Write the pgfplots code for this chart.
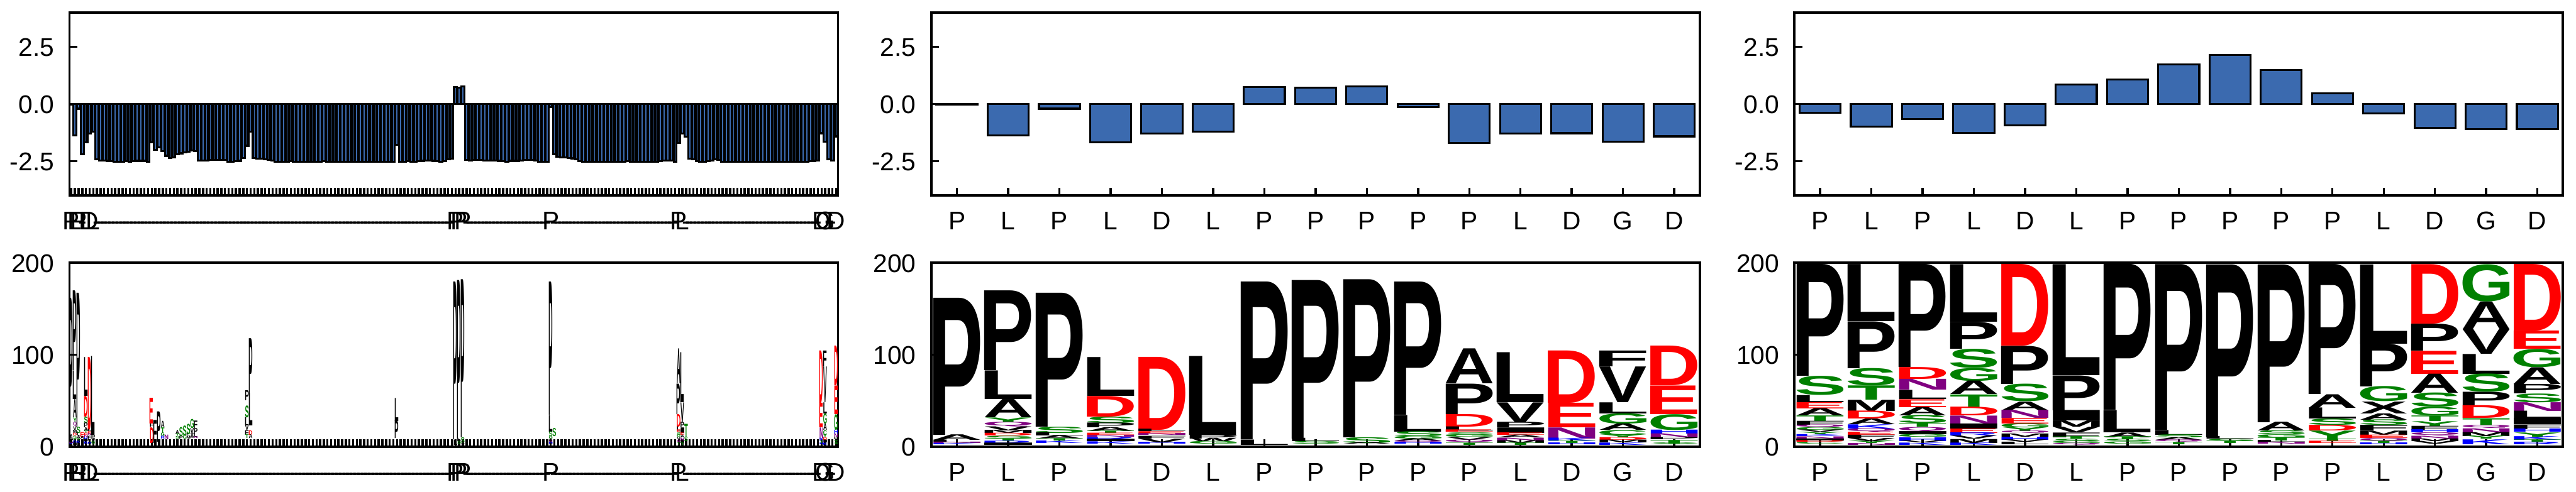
\documentclass[border=0pt]{standalone}
\usepackage{fontspec}
\setmainfont{Liberation Sans}
\usepackage{graphicx}
\usepackage{pgfplots}
\usepackage{pgfplotstable}
\pgfplotsset{compat=1.18}

\definecolor{barblue}{RGB}{59,106,175}
\definecolor{lgreen}{RGB}{0,128,0}
\definecolor{lpurple}{RGB}{128,0,128}
\definecolor{lblue}{RGB}{0,0,255}
\definecolor{lred}{RGB}{255,0,0}
\colorlet{cA}{black}\colorlet{cV}{black}\colorlet{cL}{black}\colorlet{cI}{black}
\colorlet{cP}{black}\colorlet{cW}{black}\colorlet{cF}{black}\colorlet{cM}{black}\colorlet{cX}{black}
\colorlet{cG}{lgreen}\colorlet{cS}{lgreen}\colorlet{cT}{lgreen}\colorlet{cY}{lgreen}\colorlet{cC}{lgreen}
\colorlet{cN}{lpurple}\colorlet{cQ}{lpurple}
\colorlet{cK}{lblue}\colorlet{cR}{lblue}\colorlet{cH}{lblue}
\colorlet{cD}{lred}\colorlet{cE}{lred}

\newdimen\lu \lu=0.212pt
\newcommand\inkletter[1]{\count255=\XeTeXcharglyph`#1\relax\kern-\XeTeXglyphbounds1 \count255 #1\kern-\XeTeXglyphbounds3 \count255 }
\newcommand\logoL[1]{%
  \pgfkeys{/pgf/fpu=true,/pgf/fpu/output format=fixed}\pgfmathparse{\hv}\let\hh\pgfmathresult\pgfkeys{/pgf/fpu=false}%
  \edef\lv{\pgfplotspointmeta}%
  \resizebox*{#1}{\hh\lu}{\bfseries\textcolor{c\lv}{\expandafter\inkletter\expandafter{\lv}}}}

\pgfplotsset{
  common/.style={scale only axis, width=177pt,
    axis line style={line width=0.55pt},
    every tick/.style={black, line width=0.5pt},
    major tick length=1.8pt, tick align=inside,
    xtick pos=left, ytick pos=left, minor tick num=0,
    tick label style={font=\fontsize{5.9}{7}\selectfont, text height=4.3pt, text depth=0pt},
    /pgf/number format/assume math mode=true},
  toprow/.style={common, height=42.2pt, ymin=-4, ymax=4, ytick={-2.5,0,2.5},
    yticklabel style={/pgf/number format/.cd, fixed, fixed zerofill, precision=1}},
  botrow/.style={common, height=42.4pt, ymin=0, ymax=200, ytick={0,100,200}},
  bars/.style={ybar, fill=barblue, draw=black, line width=0.45pt},
  logo/.style={only marks, mark=none, point meta=explicit symbolic,
    visualization depends on={\thisrow{h}\as\hv},
    nodes near coords={\logoL{#1}},
    every node near coord/.style={anchor=south, inner sep=0pt, outer sep=0pt}},
}

\pgfplotstableread[row sep=\\]{
k v lab\\
0 -0.03 P\\ 1 -1.36 L\\ 2 -0.20 P\\ 3 -2.20 -\\ 4 -1.68 L\\ 5 -1.29 D\\ 6 -1.20 L\\ 7 -2.42 -\\ 8 -2.46 -\\ 9 -2.47 -\\
10 -2.48 -\\ 11 -2.50 -\\ 12 -2.53 -\\ 13 -2.53 -\\ 14 -2.53 -\\ 15 -2.50 -\\ 16 -2.53 -\\ 17 -2.50 -\\ 18 -2.48 -\\ 19 -2.48 -\\
20 -2.48 -\\ 21 -2.53 -\\ 22 -1.67 -\\ 23 -2.01 -\\ 24 -1.88 -\\ 25 -2.05 -\\ 26 -2.26 -\\ 27 -2.35 -\\ 28 -2.34 -\\ 29 -2.18 -\\
30 -2.15 -\\ 31 -2.12 -\\ 32 -2.09 -\\ 33 -2.02 -\\ 34 -2.05 -\\ 35 -2.46 -\\ 36 -2.46 -\\ 37 -2.46 -\\ 38 -2.44 -\\ 39 -2.44 -\\
40 -2.43 -\\ 41 -2.44 -\\ 42 -2.44 -\\ 43 -2.52 -\\ 44 -2.52 -\\ 45 -2.50 -\\ 46 -2.48 -\\ 47 -2.35 -\\ 48 -1.82 -\\ 49 -1.20 -\\
50 -2.35 -\\ 51 -2.38 -\\ 52 -2.39 -\\ 53 -2.40 -\\ 54 -2.44 -\\ 55 -2.46 -\\ 56 -2.53 -\\ 57 -2.53 -\\ 58 -2.53 -\\ 59 -2.53 -\\
60 -2.50 -\\ 61 -2.53 -\\ 62 -2.53 -\\ 63 -2.53 -\\ 64 -2.53 -\\ 65 -2.53 -\\ 66 -2.53 -\\ 67 -2.53 -\\ 68 -2.53 -\\ 69 -2.49 -\\
70 -2.53 -\\ 71 -2.53 -\\ 72 -2.53 -\\ 73 -2.53 -\\ 74 -2.53 -\\ 75 -2.53 -\\ 76 -2.53 -\\ 77 -2.53 -\\ 78 -2.53 -\\ 79 -2.53 -\\
80 -2.53 -\\ 81 -2.53 -\\ 82 -2.53 -\\ 83 -2.53 -\\ 84 -2.53 -\\ 85 -2.53 -\\ 86 -2.53 -\\ 87 -2.53 -\\ 88 -2.53 -\\ 89 -1.77 -\\
90 -2.53 -\\ 91 -2.53 -\\ 92 -2.50 -\\ 93 -2.53 -\\ 94 -2.53 -\\ 95 -2.50 -\\ 96 -2.48 -\\ 97 -2.47 -\\ 98 -2.47 -\\ 99 -2.48 -\\
100 -2.50 -\\ 101 -2.53 -\\ 102 -2.50 -\\ 103 -2.42 -\\ 104 -2.39 -\\ 105 0.75 P\\ 106 0.72 P\\ 107 0.77 P\\ 108 -2.44 -\\ 109 -2.46 -\\
110 -2.44 -\\ 111 -2.44 -\\ 112 -2.44 -\\ 113 -2.46 -\\ 114 -2.47 -\\ 115 -2.47 -\\ 116 -2.47 -\\ 117 -2.48 -\\ 118 -2.50 -\\ 119 -2.53 -\\
120 -2.48 -\\ 121 -2.48 -\\ 122 -2.48 -\\ 123 -2.47 -\\ 124 -2.45 -\\ 125 -2.44 -\\ 126 -2.45 -\\ 127 -2.46 -\\ 128 -2.53 -\\ 129 -2.53 -\\
130 -2.53 -\\ 131 -0.12 P\\ 132 -2.18 -\\ 133 -2.29 -\\ 134 -2.33 -\\ 135 -2.33 -\\ 136 -2.35 -\\ 137 -2.37 -\\ 138 -2.40 -\\ 139 -2.50 -\\
140 -2.53 -\\ 141 -2.53 -\\ 142 -2.53 -\\ 143 -2.53 -\\ 144 -2.53 -\\ 145 -2.53 -\\ 146 -2.53 -\\ 147 -2.53 -\\ 148 -2.53 -\\ 149 -2.53 -\\
150 -2.53 -\\ 151 -2.53 -\\ 152 -2.50 -\\ 153 -2.53 -\\ 154 -2.53 -\\ 155 -2.53 -\\ 156 -2.53 -\\ 157 -2.53 -\\ 158 -2.53 -\\ 159 -2.53 -\\
160 -2.53 -\\ 161 -2.50 -\\ 162 -2.47 -\\ 163 -2.47 -\\ 164 -2.47 -\\ 165 -2.53 -\\ 166 -1.70 P\\ 167 -1.29 L\\ 168 -1.43 -\\ 169 -2.38 -\\
170 -2.40 -\\ 171 -2.50 -\\ 172 -2.53 -\\ 173 -2.53 -\\ 174 -2.50 -\\ 175 -2.46 -\\ 176 -2.42 -\\ 177 -2.44 -\\ 178 -2.53 -\\ 179 -2.53 -\\
180 -2.53 -\\ 181 -2.53 -\\ 182 -2.53 -\\ 183 -2.53 -\\ 184 -2.53 -\\ 185 -2.53 -\\ 186 -2.53 -\\ 187 -2.53 -\\ 188 -2.53 -\\ 189 -2.53 -\\
190 -2.53 -\\ 191 -2.53 -\\ 192 -2.53 -\\ 193 -2.53 -\\ 194 -2.53 -\\ 195 -2.53 -\\ 196 -2.53 -\\ 197 -2.53 -\\ 198 -2.53 -\\ 199 -2.53 -\\
200 -2.53 -\\ 201 -2.53 -\\ 202 -2.50 -\\ 203 -2.48 -\\ 204 -2.47 -\\ 205 -1.27 D\\ 206 -1.64 G\\ 207 -2.40 -\\ 208 -2.47 -\\ 209 -1.41 D\\
}\tabA

\pgfplotstableread[row sep=\\]{
x v\\ 0 -0.02\\ 1 -1.36\\ 2 -0.20\\ 3 -1.68\\ 4 -1.29\\ 5 -1.20\\ 6 0.75\\ 7 0.72\\ 8 0.77\\ 9 -0.12\\ 10 -1.70\\ 11 -1.29\\ 12 -1.27\\ 13 -1.64\\ 14 -1.41\\
}\tabB

\pgfplotstableread[row sep=\\]{
x v\\ 0 -0.37\\ 1 -0.98\\ 2 -0.66\\ 3 -1.26\\ 4 -0.92\\ 5 0.85\\ 6 1.07\\ 7 1.73\\ 8 2.15\\ 9 1.48\\ 10 0.48\\ 11 -0.41\\ 12 -1.03\\ 13 -1.10\\ 14 -1.10\\
}\tabC

% panel 5 logo (x = motif position, a = alignment position)
\pgfplotstableread{
x a y h l
0 0 13 149 P
0 0 7 6 A
0 0 4 3 L
0 0 2.5 1.5 N
0 0 1 1.5 K
1 1 82.8 86.7 P
1 1 51.7 31.1 L
1 1 31.9 19.8 A
1 1 26.7 5.2 Y
1 1 21.6 5.1 Q
1 1 17.2 4.4 V
1 1 13.8 3.4 M
1 1 10.9 2.9 D
1 1 7.8 3.1 S
1 1 5.5 2.3 T
1 1 3 2.5 R
1 1 0.5 2.5 I
2 2 21.6 145.6 P
2 2 14.7 6.9 S
2 2 11.2 3.5 L
2 2 7.8 3.4 A
2 2 5.2 2.6 T
2 2 2.5 2.7 K
3 4 55.2 42.2 L
3 4 32.8 22.4 D
3 4 25.9 6.9 S
3 4 20.7 5.2 P
3 4 16.4 4.3 A
3 4 13.8 2.6 T
3 4 11.5 2.3 E
3 4 9.5 2 N
3 4 7 2.5 R
3 4 4.5 2.5 I
3 4 2 2.5 K
4 5 18.1 79.3 D
4 5 15.5 2.6 L
4 5 12.9 2.6 E
4 5 11 1.9 N
4 5 8 3 F
4 5 4 4 V
4 5 2 2 H
5 6 12.9 85.7 L
5 6 8.6 4.3 P
5 6 5 3.6 W
5 6 2 3 G
6 105 7.8 171.5 P
6 105 2 5.8 L
7 106 8.6 172.4 P
7 106 5 3.6 L
7 106 2 3 S
8 107 10.3 171.9 P
8 107 4 6.3 S
8 107 2 2 A
9 131 34.5 144.8 P
9 131 16.4 18.1 L
9 131 11 5.4 S
9 131 8 3 G
9 131 5.5 2.5 A
9 131 3.5 2 Q
9 131 1.5 2 H
10 166 68.4 38 A
10 166 35.3 33.1 P
10 166 21.6 13.7 D
10 166 17.2 4.4 L
10 166 14.7 2.5 E
10 166 12 2.7 S
10 166 9.5 2.5 G
10 166 6.5 3 V
10 166 3.5 3 Q
10 166 1 2.5 T
11 167 48.3 54.3 L
11 167 26.7 21.6 V
11 167 20.7 6 P
11 167 14.7 6 I
11 167 12 2.7 E
11 167 9 3 A
11 167 6 3 N
11 167 3 3 M
11 167 0.5 2.5 T
12 205 47.4 56.9 D
12 205 20.7 26.7 E
12 205 8.6 12.1 N
12 205 5.5 3.1 K
12 205 3 2.5 T
12 205 1 2 H
13 206 87.1 17.2 F
13 206 48.3 38.8 V
13 206 36.2 12.1 L
13 206 25 11.2 G
13 206 18.1 6.9 A
13 206 12.9 5.2 C
13 206 9.5 3.4 Y
13 206 6.5 3 D
13 206 3.5 3 M
13 206 1 2.5 K
14 209 66.4 43.1 D
14 209 35.3 31.1 E
14 209 18.1 17.2 G
14 209 13.8 4.3 H
14 209 9.5 4.3 N
14 209 7 2.5 P
14 209 3 4 T
14 209 1 2 S
}\tabE

% panel 4 extra columns (alignment positions outside the motif)
\pgfplotstableread{
a y h l
3 11 5 E
3 8 3 A
22 4 17 D
22 21 4 F
22 25 28 E
23 4 25 F
24 5 33 P
25 21 7 A
25 15 6 T
25 11 4 G
25 8 3 R
26 8 5 N
29 13.5 4.5 A
29 11 2.5 T
29 8 3 S
30 11 10 S
30 8 3 P
31 12 11 S
31 8 4 G
32 13.5 11.5 S
32 11 2.5 L
32 8 3 M
33 20 10 G
33 14 6 V
33 10 4 X
33 8 2 A
34 20 8 F
34 14 6 P
34 10 4 L
34 8 2 N
48 50 11 P
48 32 13 S
48 23 9 L
48 18 5 V
48 13 5 F
48 9 4 T
49 58 60 P
49 23 35 L
49 12.7 4.8 D
49 8.7 4 A
89 9 19 P
89 28 25 L
132 11 9 S
168 11 14 T
168 6 5 S
}\tabX

% panel 6 logo
\pgfplotstableread{
x y h l
0 76.7 121.6 P
0 56 20.7 S
0 48.3 7.7 L
0 41.4 6.9 E
0 33.6 7.8 A
0 27.6 6 T
0 23.3 4.3 F
0 20.2 3.1 Q
0 17.2 3 G
0 14.7 2.5 V
0 12.1 2.6 Y
0 9.9 2.2 K
0 7.5 2.4 N
0 5.3 2.2 I
0 3.5 1.8 D
0 1.5 2 C
1 136.2 62.1 L
1 85.3 50.9 P
1 66.4 18.9 S
1 50.9 15.5 T
1 38.8 12.1 M
1 30.2 8.6 D
1 24.1 6.1 A
1 19.5 4.6 K
1 15.5 4 Q
1 12.1 3.4 E
1 8.6 3.5 F
1 5.2 3.4 V
1 2.5 2.7 Y
1 0.5 2 N
2 86.2 112.1 P
2 73.3 12.9 D
2 61.6 11.7 N
2 51.7 9.9 L
2 43.1 8.6 E
2 34 9.1 A
2 25.3 8.7 S
2 21.2 4.1 T
2 16.4 4.8 Q
2 13 3.4 I
2 9.9 3.1 G
2 5.7 4.2 H
2 3.5 2.2 V
2 1 2.5 K
3 135.7 62.6 L
3 106.4 29.3 P
3 85.7 20.7 S
3 71.6 14.1 G
3 56.9 14.7 A
3 43.1 13.8 T
3 33.6 9.5 D
3 25 8.6 N
3 19.5 5.5 I
3 14.7 4.8 E
3 11.2 3.5 R
3 7.8 3.4 V
3 3.5 4.3 M
3 1 2.5 K
4 109.5 88.8 D
4 68.1 41.4 P
4 49.1 19 S
4 39.7 9.4 A
4 31 8.7 N
4 25 6 E
4 20.7 4.3 G
4 16.4 4.3 Y
4 13.8 2.6 Q
4 10.3 3.5 M
4 6.9 3.4 H
4 4.3 2.6 V
4 1.5 2.8 L
5 77.6 120.7 L
5 39.7 37.9 P
5 28.4 11.3 I
5 21.6 6.8 M
5 15.5 6.1 V
5 10.3 5.2 F
5 7.5 2.8 T
5 5 2.5 S
5 2.5 2.5 G
5 0.5 2 Q
6 39.7 158.6 P
6 15.5 24.2 L
6 10.3 5.2 A
6 7 3.3 T
6 4.5 2.5 S
6 2 2.5 G
7 18.1 180.2 P
7 12.9 5.2 L
7 9.5 3.4 S
7 6.5 3 A
7 4 2.5 Q
7 1.5 2.5 T
8 10.3 188 P
8 7.5 2.8 L
8 5 2.5 S
8 2.5 2.5 T
9 26.7 171.6 P
9 17.2 9.5 A
9 12.9 4.3 S
9 9.5 3.4 G
9 6 3.5 T
9 4 2 L
9 2 2 N
10 56.9 141.4 P
10 42.2 14.7 A
10 30.2 12 L
10 23.3 6.9 S
10 17.2 6.1 D
10 7.8 9.4 Y
10 5 2.8 T
10 2.5 2.5 E
11 112.1 86.2 L
11 65.5 46.6 P
11 49.1 16.4 G
11 36.2 12.9 X
11 29.3 6.9 A
11 23.3 6 S
11 17.2 6.1 F
11 12.6 4.6 M
11 9 3.6 E
11 5.5 3.5 Q
11 3 2.5 T
11 1 2 H
12 133.6 64.7 D
12 104.3 29.3 P
12 79.3 25 E
12 58.6 20.7 A
12 43.1 15.5 S
12 33.6 9.5 G
12 27.6 6 T
12 22.4 5.2 Y
12 18.1 4.3 F
12 14.7 3.4 H
12 11.2 3.5 Q
12 8.1 3.1 N
12 5.2 2.9 M
12 2 3 V
13 157.8 40.5 G
13 127.6 30.2 A
13 100.9 26.7 V
13 79.3 21.6 L
13 59.5 19.8 S
13 44.8 14.7 P
13 31 13.8 D
13 23.3 7.7 T
13 19.8 3.5 Q
13 15.5 4.3 N
13 11.2 4.3 M
13 7.8 3.4 Y
13 2.5 5.3 K
14 125.9 72.4 D
14 106.1 19.8 E
14 86.2 19.9 G
14 68.1 18.1 A
14 57.8 10.3 P
14 48.3 9.5 S
14 38.8 9.5 N
14 31 7.8 L
14 24.1 6.9 I
14 19 5.1 F
14 15.5 3.5 H
14 10.9 4.6 Y
14 6.9 4 K
14 4.3 2.6 T
14 1.5 2.8 R
}\tabF

\begin{document}
\begin{tikzpicture}
\useasboundingbox (0,0) rectangle (593.3pt,113.3pt);
% ---------- top row ----------
\begin{axis}[toprow, at={(16pt,68.2pt)}, anchor=south west,
  xmin=-0.5, xmax=209.5, xtick=data, xticklabels from table={\tabA}{lab}]
\addplot[bars, bar width=0.8] table[x=k,y=v]{\tabA};
\end{axis}
\begin{axis}[toprow, at={(214.5pt,68.2pt)}, anchor=south west,
  xmin=-0.5, xmax=14.5, xtick={0,...,14}, xticklabels={P,L,P,L,D,L,P,P,P,P,P,L,D,G,D}]
\addplot[bars, bar width=0.8] table[x=x,y=v]{\tabB};
\end{axis}
\begin{axis}[toprow, at={(413.3pt,68.2pt)}, anchor=south west,
  xmin=-0.5, xmax=14.5, xtick={0,...,14}, xticklabels={P,L,P,L,D,L,P,P,P,P,P,L,D,G,D}]
\addplot[bars, bar width=0.8] table[x=x,y=v]{\tabC};
\end{axis}
% ---------- bottom row ----------
\begin{axis}[botrow, at={(16pt,10.3pt)}, anchor=south west,
  xmin=-0.5, xmax=209.5, xtick={0,1,...,209}, xticklabels from table={\tabA}{lab}]
\addplot[logo=0.8pt] table[x=a,y=y,meta=l]{\tabE};
\addplot[logo=0.8pt] table[x=a,y=y,meta=l]{\tabX};
\end{axis}
\begin{axis}[botrow, at={(214.5pt,10.3pt)}, anchor=south west,
  xmin=-0.5, xmax=14.5, xtick={0,...,14}, xticklabels={P,L,P,L,D,L,P,P,P,P,P,L,D,G,D}]
\addplot[logo=10.8pt] table[x=x,y=y,meta=l]{\tabE};
\end{axis}
\begin{axis}[botrow, at={(413.3pt,10.3pt)}, anchor=south west,
  xmin=-0.5, xmax=14.5, xtick={0,...,14}, xticklabels={P,L,P,L,D,L,P,P,P,P,P,L,D,G,D}]
\addplot[logo=10.8pt] table[x=x,y=y,meta=l]{\tabF};
\end{axis}
\end{tikzpicture}
\end{document}
